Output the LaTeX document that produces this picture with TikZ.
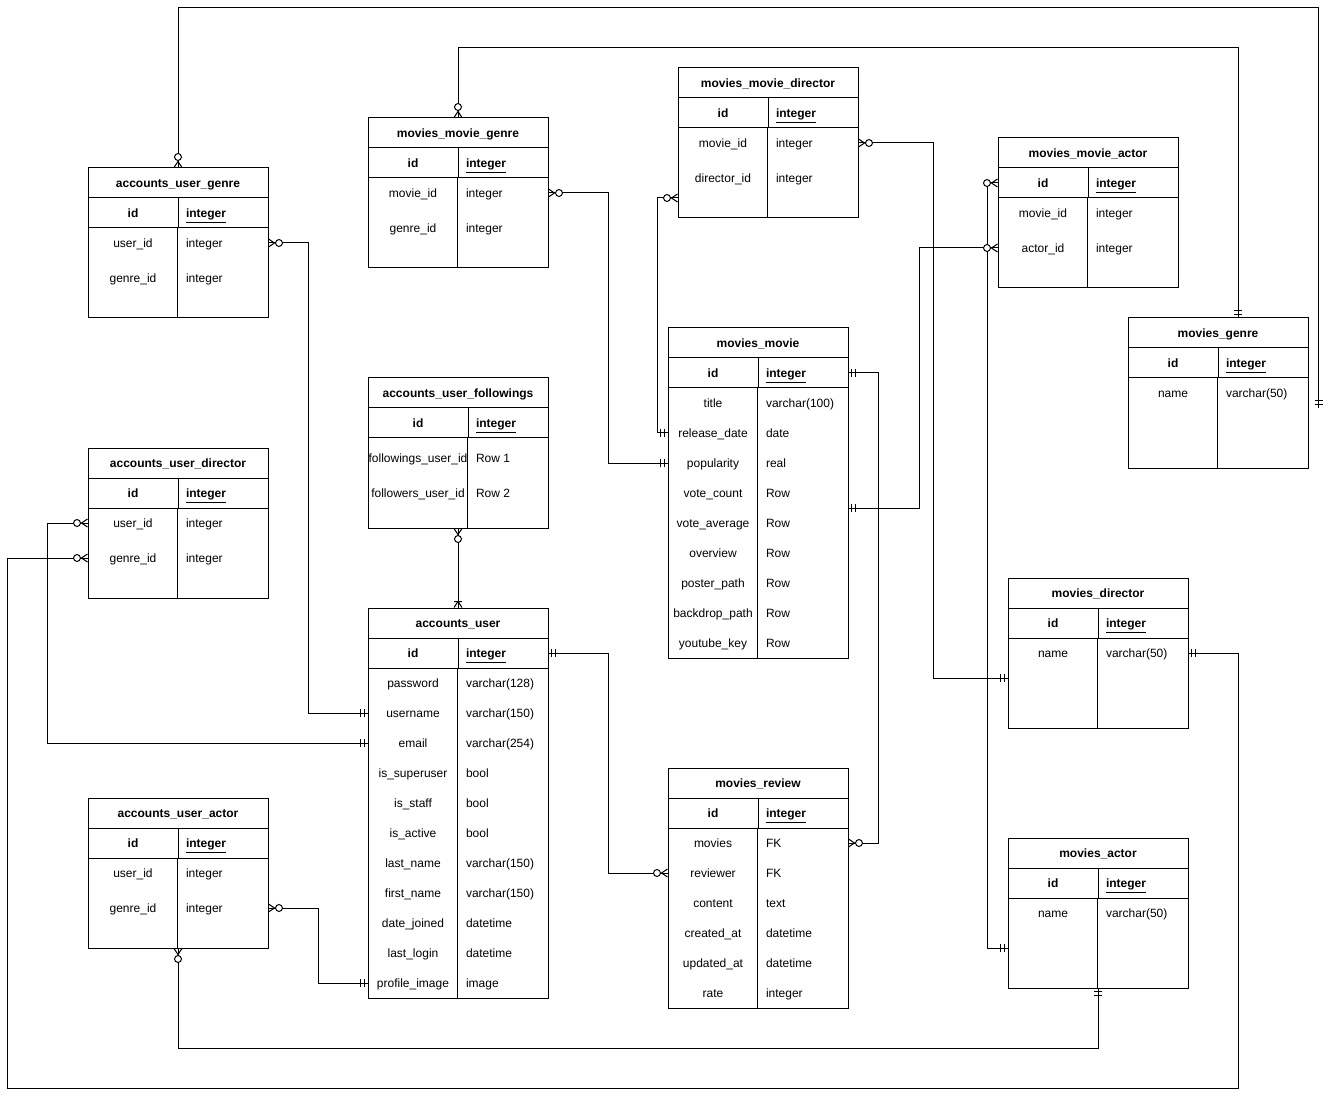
\documentclass[tikz,border=0pt]{standalone}
\usepackage{fontspec}
\setmainfont{Liberation Sans}
\usetikzlibrary{calc}
\newcommand{\erfont}{\fontsize{9}{10.5}\selectfont}
% table frame: name, left, top, key column width, body height, title
\newcommand{\ertable}[6]{%
  \pgfmathsetmacro\kw{#4*0.75}%
  \pgfmathsetmacro\tw{(180-#4)*0.75}%
  \pgfmathsetmacro\bh{#5*0.75}%
  \node[erhead] (#1) at ({#2+90},{#3+15}) {#6};
  \node[ercell, minimum width=\kw pt, font=\erfont\bfseries] (#1-k) at ({#2+#4/2},{#3+45}) {id};
  \node[ercell, minimum width=\tw pt] (#1-t) at ({#2+#4+(180-#4)/2},{#3+45}) {};
  \node[erfld, anchor=west, font=\erfont\bfseries] (#1-tl) at ($(#1-t.west)+(8,0)$) {\underline{integer}};
  \node[ercell, minimum width=135pt, minimum height=\bh pt] (#1-b) at ({#2+90},{#3+60+#5/2}) {};
  \draw (#1-t.south west) -- (#1-t.south west |- #1-b.south);
}
% one row: table, key, offset from id row, field, type
\newcommand{\erfield}[5]{%
  \node[erfld] (#1-#2) at ($(#1-k)+(0,#3)$) {#4};
  \node[erfld, anchor=west] (#1-#2-t) at ($(#1-t.west)+(8,#3)$) {#5};
}

\begin{document}
\begin{tikzpicture}[x=0.75pt, y=-0.75pt, line width=0.75pt,
  erhead/.style={draw, minimum width=135pt, minimum height=22.5pt, inner sep=0pt, text height=7pt, text depth=0pt, font=\erfont\bfseries},
  ercell/.style={draw, minimum height=22.5pt, inner sep=0pt, text height=7pt, text depth=0pt},
  erfld/.style={inner sep=0pt, text height=7pt, text depth=0pt, font=\erfont},
  zmany/.pic={\draw (0,-4) -- (6,0) -- (0,4); \draw[fill=white] (10.5,0) circle[radius=2.6pt];},
  mone/.pic={\draw (3,-4) -- (3,4) (7,-4) -- (7,4);},
  onemany/.pic={\draw (0,-4) -- (6,0) -- (0,4) (6,-4) -- (6,4);}]
\useasboundingbox (0,0) rectangle (1329,1098);

\ertable{aug}{88}{168}{90}{90}{accounts\_user\_genre}
\erfield{aug}{user}{30}{user\_id}{integer}
\erfield{aug}{genre}{65}{genre\_id}{integer}

\ertable{mmg}{368}{118}{90}{90}{movies\_movie\_genre}
\erfield{mmg}{movie}{30}{movie\_id}{integer}
\erfield{mmg}{genre}{65}{genre\_id}{integer}

\ertable{mmd}{678}{68}{90}{90}{movies\_movie\_director}
\erfield{mmd}{movie}{30}{movie\_id}{integer}
\erfield{mmd}{director}{65}{director\_id}{integer}

\ertable{mma}{998}{138}{90}{90}{movies\_movie\_actor}
\erfield{mma}{movie}{30}{movie\_id}{integer}
\erfield{mma}{actor}{65}{actor\_id}{integer}

\ertable{mg}{1128}{318}{90}{90}{movies\_genre}
\erfield{mg}{name}{30}{name}{varchar(50)}

\ertable{auf}{368}{378}{100}{90}{accounts\_user\_followings}
\erfield{auf}{fwing}{35}{followings\_user\_id}{Row 1}
\erfield{auf}{fwer}{70}{followers\_user\_id}{Row 2}

\ertable{aud}{88}{448}{90}{90}{accounts\_user\_director}
\erfield{aud}{user}{30}{user\_id}{integer}
\erfield{aud}{genre}{65}{genre\_id}{integer}

\ertable{aua}{88}{798}{90}{90}{accounts\_user\_actor}
\erfield{aua}{user}{30}{user\_id}{integer}
\erfield{aua}{genre}{65}{genre\_id}{integer}

\ertable{mm}{668}{328}{90}{270}{movies\_movie}
\foreach \n/\fld/\typ [count=\i] in {title/title/varchar(100), release/release\_date/date,
    pop/popularity/real, vcount/vote\_count/Row, vavg/vote\_average/Row, overview/overview/Row,
    poster/poster\_path/Row, backdrop/backdrop\_path/Row, youtube/youtube\_key/Row}
  {\erfield{mm}{\n}{30*\i}{\fld}{\typ}}

\ertable{au}{368}{608}{90}{330}{accounts\_user}
\foreach \n/\fld/\typ [count=\i] in {password/password/varchar(128), username/username/varchar(150),
    email/email/varchar(254), superuser/is\_superuser/bool, staff/is\_staff/bool, active/is\_active/bool,
    lastname/last\_name/varchar(150), firstname/first\_name/varchar(150), joined/date\_joined/datetime,
    login/last\_login/datetime, profile/profile\_image/image}
  {\erfield{au}{\n}{30*\i}{\fld}{\typ}}

\ertable{mr}{668}{768}{90}{180}{movies\_review}
\foreach \n/\fld/\typ [count=\i] in {movies/movies/FK, reviewer/reviewer/FK, content/content/text,
    created/created\_at/datetime, updated/updated\_at/datetime, rate/rate/integer}
  {\erfield{mr}{\n}{30*\i}{\fld}{\typ}}

\ertable{md}{1008}{578}{90}{90}{movies\_director}
\erfield{md}{name}{30}{name}{varchar(50)}

\ertable{ma}{1008}{838}{90}{90}{movies\_actor}
\erfield{ma}{name}{30}{name}{varchar(50)}

\coordinate (genrefree) at ($(mg-b.east)+(10,-15)$);

% links
\draw (aug.north) -- ++(0,-160) -| (genrefree);
\draw (mmg.north) -- ++(0,-70) -| ($(mg.north)+(20,0)$);
\draw (aug-b.east |- aug-user) -- ++(40,0) |- (au-b.west |- au-username);
\draw (mmg-b.east |- mmg-movie) -- ++(60,0) |- (mm-b.west |- mm-pop);
\draw ($(mmd-b.west)+(0,25)$) -- ++(-20,0) |- (mm-b.west |- mm-release);
\draw (mmd-b.east |- mmd-movie) -- ++(75,0) |- ($(md-b.west)+(0,-5)$);
\draw (mma-b.west |- mma-actor) -- ++(-78,0) |- ($(mm-b.east)+(0,-15)$);
\draw (mma-k.west) -- ++(-10,0) |- ($(ma-b.west)+(0,5)$);
\draw (mm-t.east) -- ++(30,0) |- (mr-b.east |- mr-movies);
\draw (au-t.east) -- ++(60,0) |- (mr-b.west |- mr-reviewer);
\draw (auf-b.south) -- (au.north);
\draw (aud-b.west |- aud-user) -- ++(-40,0) |- (au-b.west |- au-email);
\draw (aud-b.west |- aud-genre) -- ++(-80,0) -- ++(0,530) -| ($(md-b.east |- md-name)+(50,0)$) -- (md-b.east |- md-name);
\draw (aua-b.east |- aua-genre) -- ++(50,0) |- (au-b.west |- au-profile);
\draw (aua-b.south) -- ++(0,100) -| (ma-b.south);

% ends
\pic[rotate=90] at (aug.north) {zmany};
\pic[rotate=90] at (genrefree) {mone};
\pic[rotate=90] at (mmg.north) {zmany};
\pic[rotate=90] at ($(mg.north)+(20,0)$) {mone};
\pic at (aug-b.east |- aug-user) {zmany};
\pic[rotate=180] at (au-b.west |- au-username) {mone};
\pic at (mmg-b.east |- mmg-movie) {zmany};
\pic[rotate=180] at (mm-b.west |- mm-pop) {mone};
\pic[rotate=180] at ($(mmd-b.west)+(0,25)$) {zmany};
\pic[rotate=180] at (mm-b.west |- mm-release) {mone};
\pic at (mmd-b.east |- mmd-movie) {zmany};
\pic[rotate=180] at ($(md-b.west)+(0,-5)$) {mone};
\pic[rotate=180] at (mma-b.west |- mma-actor) {zmany};
\pic at ($(mm-b.east)+(0,-15)$) {mone};
\pic[rotate=180] at (mma-k.west) {zmany};
\pic[rotate=180] at ($(ma-b.west)+(0,5)$) {mone};
\pic at (mm-t.east) {mone};
\pic at (mr-b.east |- mr-movies) {zmany};
\pic at (au-t.east) {mone};
\pic[rotate=180] at (mr-b.west |- mr-reviewer) {zmany};
\pic[rotate=-90] at (auf-b.south) {zmany};
\pic[rotate=90] at (au.north) {onemany};
\pic[rotate=180] at (aud-b.west |- aud-user) {zmany};
\pic[rotate=180] at (au-b.west |- au-email) {mone};
\pic[rotate=180] at (aud-b.west |- aud-genre) {zmany};
\pic at (md-b.east |- md-name) {mone};
\pic at (aua-b.east |- aua-genre) {zmany};
\pic[rotate=180] at (au-b.west |- au-profile) {mone};
\pic[rotate=-90] at (aua-b.south) {zmany};
\pic[rotate=-90] at (ma-b.south) {mone};
\end{tikzpicture}
\end{document}
